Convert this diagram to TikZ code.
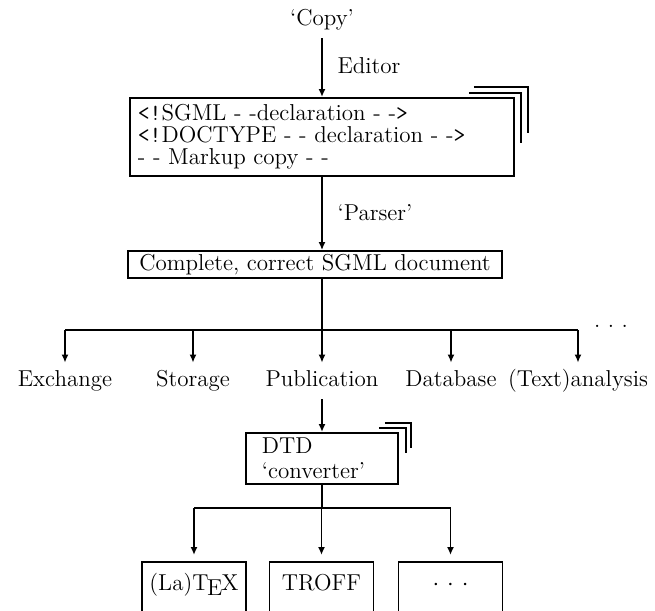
\documentclass[tikz,border=0pt]{standalone}
\usepackage{tikz}
\usetikzlibrary{arrows.meta, positioning, calc}

\begin{document}
\begin{tikzpicture}[
    x=0.5pt, y=-0.5pt,
    font=\fontsize{11.5}{12}\selectfont,
    line width=0.9pt,
    box/.style={draw, align=left, anchor=north west, inner xsep=4pt},
    leaf/.style={draw, anchor=north, minimum width=52pt, text height=10.5pt,
                 text depth=30pt, inner ysep=4pt},
    use/.style={text height=8.2pt, text depth=2.6pt},
    lab/.style={anchor=west},
    arr/.style={-{Latex[length=4pt,width=3.5pt]}}
]
\useasboundingbox (0,0) rectangle (655,611);

\node (copy) at (322,20) {`Copy'};
\node[box, text width=184pt, minimum height=39pt, font=\fontsize{11.5}{11}\selectfont] (markup) at (129,97)
{\texttt{<!}SGML - -declaration - -\texttt{>}\\
\texttt{<!}DOCTYPE - - declaration - -\texttt{>}\\
- - Markup copy - -};
\node[lab] (editor) at (330,66) {Editor};

\node[draw, minimum width=187pt, minimum height=13.5pt, inner sep=1pt] (sgml) at (315,264.5)
{Complete, correct SGML document};
\node[lab] (parser) at (330,213) {`Parser'};

% stacked pages behind the boxes
\draw ($(markup.north east)+(-46,-4)$) -- ++(52,0) -- ++(0,50);
\draw ($(markup.north east)+(-41,-10)$) -- ++(54,0) -- ++(0,46);

\draw[arr] (copy.south) -- (copy.south |- markup.north);
\draw[arr] (markup.south -| copy) -- (copy |- sgml.north);

\coordinate (split) at (322,330);
\node[use] (exch) at (65,381) {Exchange};
\node[use] (stor) at (193,381) {Storage};
\node[use] (publ) at (322,381) {Publication};
\node[use] (dbase) at (451,381) {Database};
\node[use] (anal) at (578,381) {(Text)analysis};
\node (more) at (611,326) {.~.~.};

\draw (sgml.south -| split) -- (split);
\draw (exch |- split) -- (anal |- split);
\draw[arr] (exch |- split) -- (exch.north);
\draw[arr] (stor |- split) -- (stor.north);
\draw[arr] (publ |- split) -- (publ.north);
\draw[arr] (dbase |- split) -- (dbase.north);
\draw[arr] (anal |- split) -- (anal.north);

\node[box, text width=60pt, inner xsep=8pt, inner ysep=0.5pt, minimum height=25.5pt,
      font=\fontsize{11.5}{12.5}\selectfont] (dtd) at (245,432) {DTD\\`converter'};
\draw ($(dtd.north east)+(-20,-4)$) -- ++(27,0) -- ++(0,25);
\draw ($(dtd.north east)+(-14,-9)$) -- ++(26,0) -- ++(0,25);
\draw[arr] (publ.south) -- (publ.south |- dtd.north);

\coordinate (split2) at (322,508);
\node[leaf] (latex) at (194,561) {(La)T\kern-.06em\lower.5ex\hbox{E}\kern-.04em X};
\node[leaf] (troff) at (321.5,561) {TROFF};
\node[leaf] (etc) at (450.5,561) {$\cdotp\,\cdotp\,\cdotp$};

\draw (dtd.south -| split2) -- (split2);
\draw (latex.north |- split2) -- (etc.north |- split2);
\draw[arr, shorten >=3pt] (latex.north |- split2) -- (latex.north);
\draw[arr, shorten >=3pt] (troff.north |- split2) -- (troff.north);
\draw[arr, shorten >=3pt] (etc.north |- split2) -- (etc.north);
\end{tikzpicture}
\end{document}
